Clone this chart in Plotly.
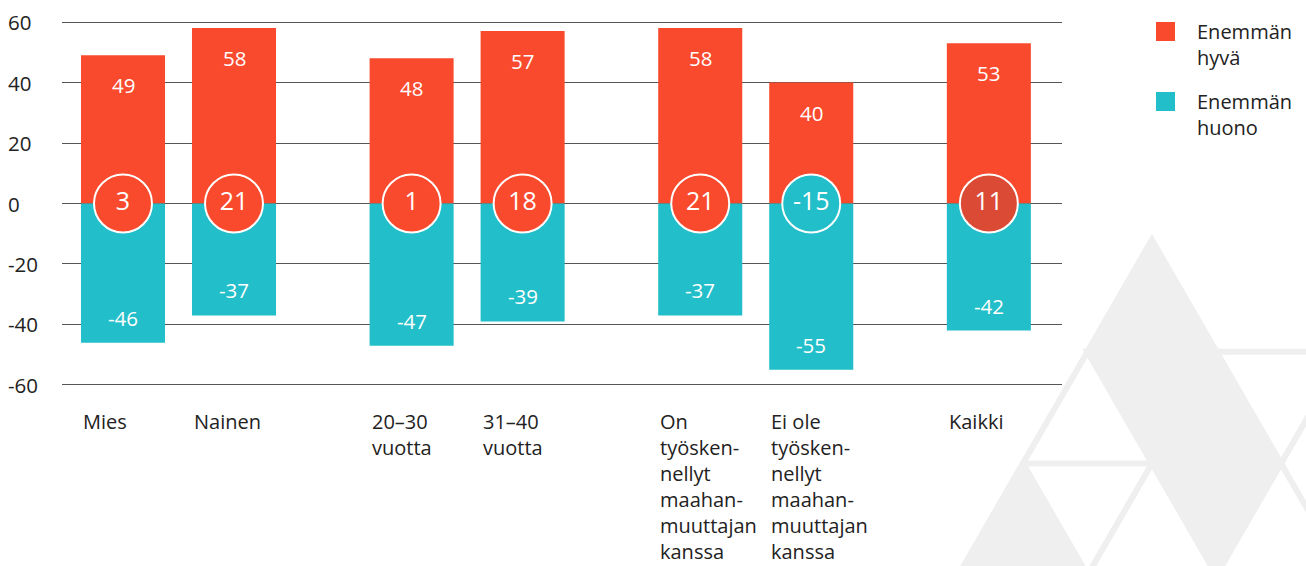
import math
import plotly.graph_objects as go

# ---------------- data ----------------
categories = [
    "Mies",
    "Nainen",
    "20–30<br>vuotta",
    "31–40<br>vuotta",
    "On<br>työsken-<br>nellyt<br>maahan-<br>muuttajan<br>kanssa",
    "Ei ole<br>työsken-<br>nellyt<br>maahan-<br>muuttajan<br>kanssa",
    "Kaikki",
]
group_of = [0, 0, 1, 1, 2, 2, 3]
better = [49, 58, 48, 57, 58, 40, 53]          # Enemmän hyvä
worse = [-46, -37, -47, -39, -37, -55, -42]    # Enemmän huono
net = [3, 21, 1, 18, 21, -15, 11]
y_ticks = [60, 40, 20, 0, -20, -40, -60]
legend_labels = ["Enemmän<br>hyvä", "Enemmän<br>huono"]

# ---------------- style ----------------
RED = "#F94A2E"
TEAL = "#22BEC9"
RED_TOTAL = "#DB4A34"
TEXT = "#222222"
GRID = "#555555"
WM = "#EFEFEF"
FONT = "Open Sans"

W, H = 1306, 566
ML, MR, MT, MB = 62, 244, 19, 178
PW, PH = W - ML - MR, H - MT - MB

GROUP_GAP = 0.6
BAR_W = 0.757
pos = [i + g * GROUP_GAP for i, g in enumerate(group_of)]


def px(x):
    return (x - ML) / PW


def py(y):
    return (H - MB - y) / PH


fig = go.Figure()
fig.add_trace(go.Bar(x=pos, y=better, width=BAR_W, marker=dict(color=RED, line=dict(width=0)),
                     name="Enemmän hyvä", hoverinfo="skip"))
fig.add_trace(go.Bar(x=pos, y=worse, width=BAR_W, marker=dict(color=TEAL, line=dict(width=0)),
                     name="Enemmän huono", hoverinfo="skip"))

circle_colors = []
for i, v in enumerate(net):
    if i == len(net) - 1:
        circle_colors.append(RED_TOTAL)
    elif v >= 0:
        circle_colors.append(RED)
    else:
        circle_colors.append(TEAL)

fig.add_trace(go.Scatter(
    x=pos, y=[0] * len(net), mode="markers+text",
    text=[str(v) for v in net], textposition="middle center",
    textfont=dict(color="white", size=25, family=FONT),
    marker=dict(size=58, color=circle_colors, line=dict(color="white", width=2)),
    hoverinfo="skip", cliponaxis=False,
))

annotations = []
# value labels
for p, b, w in zip(pos, better, worse):
    annotations.append(dict(x=p, y=b, xref="x", yref="y", text=str(b), showarrow=False,
                            yanchor="middle", yshift=-30,
                            font=dict(color="white", size=20.5, family=FONT)))
    annotations.append(dict(x=p, y=w, xref="x", yref="y", text=str(w), showarrow=False,
                            yanchor="middle", yshift=25,
                            font=dict(color="white", size=20.5, family=FONT)))
# y tick labels (left aligned)
for t in y_ticks:
    annotations.append(dict(x=px(6), y=t, xref="paper", yref="y", text=str(t), showarrow=False,
                            xanchor="left", yanchor="middle",
                            font=dict(color=TEXT, size=20.5, family=FONT)))
# category labels
for p, c in zip(pos, categories):
    annotations.append(dict(x=p - BAR_W / 2, y=py(406), xref="x", yref="paper", text=c,
                            showarrow=False, xanchor="left", yanchor="top", align="left",
                            font=dict(color=TEXT, size=20, family=FONT)))

# custom legend
shapes = []
leg_colors = [RED, TEAL]
leg_tops = [22, 92]
for col, top, lab in zip(leg_colors, leg_tops, legend_labels):
    shapes.append(dict(type="rect", xref="paper", yref="paper",
                       x0=px(1156), x1=px(1175), y0=py(top), y1=py(top + 19),
                       fillcolor=col, line=dict(width=0)))
    annotations.append(dict(x=px(1195), y=py(top - 6), xref="paper", yref="paper",
                            text=lab, showarrow=False, xanchor="left", yanchor="top",
                            align="left", font=dict(color=TEXT, size=20, family=FONT)))

# watermark: triangular lattice
AX, AY = 1152, 240
SIDE = 129
HR = SIDE * math.sqrt(3) / 2


def v(r, k):
    return (AX + (k - r / 2) * SIDE, AY + r * HR)


def poly(pts):
    d = "M " + " L ".join(f"{px(x)},{py(y)}" for x, y in pts) + " Z"
    return dict(type="path", path=d, xref="paper", yref="paper", fillcolor=WM,
                line=dict(color=WM, width=6), layer="below")


def seg(a, b):
    return dict(type="line", xref="paper", yref="paper", x0=px(a[0]), y0=py(a[1]),
                x1=px(b[0]), y1=py(b[1]), line=dict(color=WM, width=6), layer="below")


for tri in [
    [v(0, 0), v(1, 0), v(1, 1)],
    [v(1, 0), v(1, 1), v(2, 1)],
    [v(1, 1), v(2, 1), v(2, 2)],
    [v(2, 1), v(2, 2), v(3, 2)],
    [v(2, 0), v(3, 0), v(3, 1)],
]:
    shapes.append(poly(tri))
for a, b in [
    (v(0, 0), v(3, 0)),
    (v(2, 0), v(2, 1)),
    (v(2, 1), v(3, 1)),
    (v(1, 1), v(1, 3)),
    (v(1, 2), v(2, 2)),
    (v(2, 2), v(3, 3)),
]:
    shapes.append(seg(a, b))

fig.update_layout(
    width=W, height=H,
    margin=dict(l=ML, r=MR, t=MT, b=MB),
    barmode="relative",
    showlegend=False,
    plot_bgcolor="white", paper_bgcolor="white",
    font=dict(family=FONT, color=TEXT),
    xaxis=dict(range=[-0.5495, 8.459], showticklabels=False, showgrid=False,
               zeroline=False, showline=False, fixedrange=True),
    yaxis=dict(range=[-61, 61], tickvals=y_ticks, showticklabels=False, showgrid=True,
               gridcolor=GRID, gridwidth=1, zeroline=False, showline=False, fixedrange=True),
    annotations=annotations,
    shapes=shapes,
)

fig.write_html(
    "out.html",
    config={"displayModeBar": False},
    post_script="document.body.style.margin='0';document.body.style.overflow='hidden';",
)
